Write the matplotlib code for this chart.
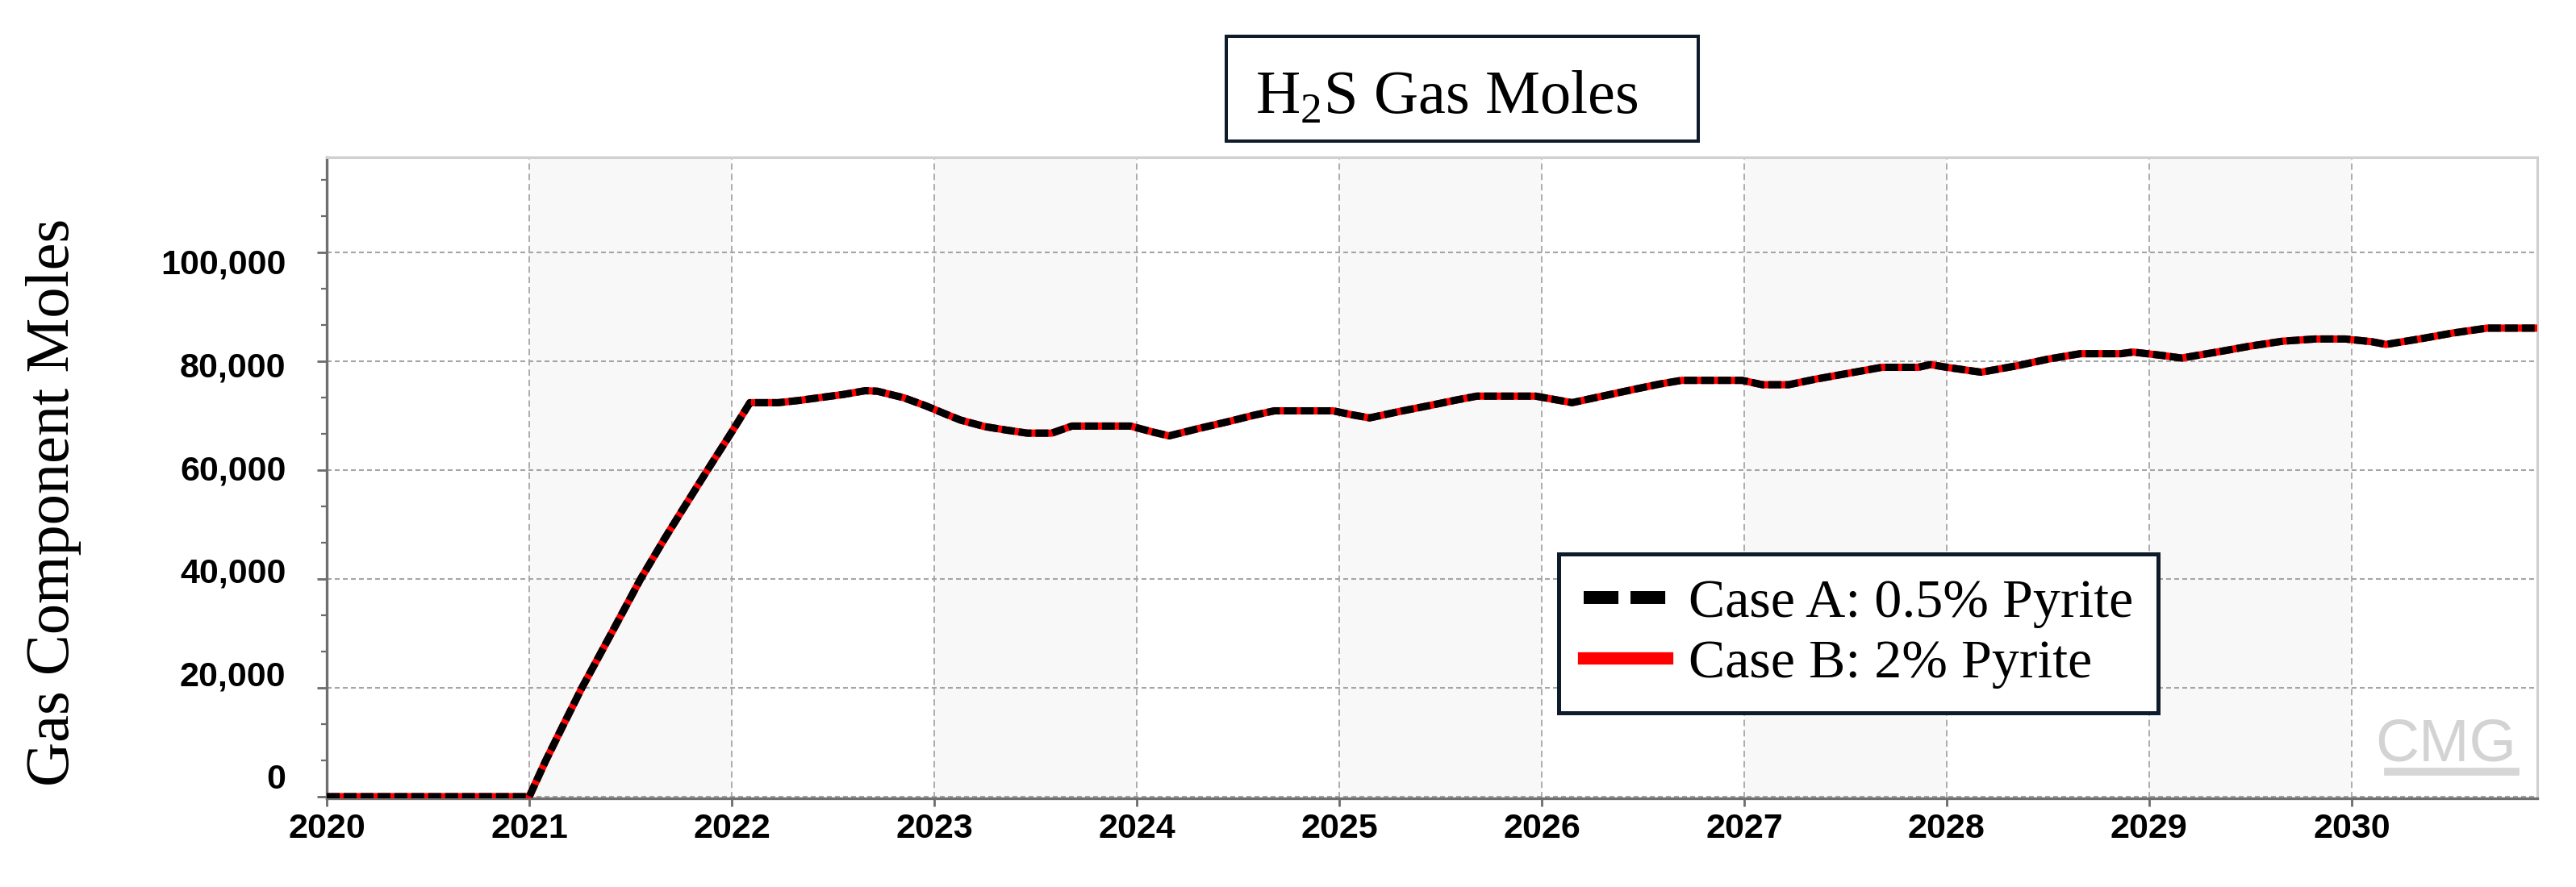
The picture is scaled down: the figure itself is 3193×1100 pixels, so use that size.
import matplotlib
matplotlib.use("Agg")
import matplotlib.pyplot as plt
from matplotlib.lines import Line2D
from matplotlib.patches import Rectangle
from matplotlib.ticker import MultipleLocator, FixedLocator, FuncFormatter
from matplotlib.transforms import ScaledTranslation

plt.rcParams['lines.scale_dashes'] = False
plt.rcParams['mathtext.fontset'] = 'custom'
plt.rcParams['mathtext.rm'] = 'Liberation Serif'

# ======================
# DATA
# ======================
years = [2020.0, 2021.0, 2021.08, 2021.17, 2021.26, 2021.33, 2021.42, 2021.55, 2021.67, 2021.75, 2021.88, 2022.0, 2022.09,
         2022.23, 2022.33, 2022.43, 2022.55, 2022.66, 2022.72, 2022.85, 2022.96,
         2023.05, 2023.13, 2023.25, 2023.35, 2023.46, 2023.58, 2023.68, 2023.97,
         2024.08, 2024.16, 2024.3, 2024.45, 2024.58, 2024.68, 2024.97,
         2025.06, 2025.15, 2025.3, 2025.45, 2025.58, 2025.68, 2025.97,
         2026.06, 2026.15, 2026.3, 2026.45, 2026.58, 2026.69, 2026.99,
         2027.09, 2027.22, 2027.35, 2027.5, 2027.68, 2027.86, 2027.92, 2028.0,
         2028.17, 2028.35, 2028.5, 2028.66, 2028.86, 2028.92, 2029.06,
         2029.16, 2029.35, 2029.5, 2029.66, 2029.82, 2029.97, 2030.1,
         2030.17, 2030.35, 2030.5, 2030.67, 2030.917]

case_a_moles = [0, 0, 6500, 13300, 20000, 24800, 31000, 40000, 47500, 52300, 60000, 67000, 72400,
                72400, 72800, 73300, 73900, 74600, 74500, 73300, 71800,
                70400, 69200, 68000, 67400, 66800, 66800, 68100, 68100,
                67000, 66300, 67600, 68900, 70100, 70900, 70900,
                70200, 69600, 70800, 71900, 72900, 73600, 73600,
                73000, 72400, 73600, 74800, 75800, 76500, 76500,
                75700, 75700, 76700, 77700, 78900, 78900, 79400, 78900,
                78000, 79200, 80400, 81400, 81400, 81700, 81100,
                80600, 81800, 82800, 83700, 84100, 84100, 83600,
                83100, 84200, 85200, 86100, 86100]

# the two cases overlap exactly in the source figure
case_b_moles = list(case_a_moles)

year_ticks = list(range(2020, 2031))
mole_ticks = [0, 20000, 40000, 60000, 80000, 100000]
labels = ['Case A: 0.5% Pyrite', 'Case B: 2% Pyrite']

W, H = 3193, 1100

# ======================
# FIGURE
# ======================
fig = plt.figure(figsize=(W / 100, H / 100), dpi=100)
ax = fig.add_axes([405 / W, 1 - 990 / H, (3145 - 405) / W, (990 - 195) / H])

# alternating year bands
for y in year_ticks[1::2]:
    ax.axvspan(y, y + 1, color='#f8f8f8', lw=0, zorder=0)

ax.plot(years, case_b_moles, color='#ff0000', lw=6.5, zorder=3)
ax.plot(years, case_a_moles, color='black', lw=6.5, dashes=(11.5, 3.6), zorder=4)

ax.set_xlim(2020, 2030.917)
ax.set_ylim(-300, 117500)

ax.xaxis.set_major_locator(FixedLocator(year_ticks))
ax.yaxis.set_major_locator(FixedLocator(mole_ticks))
ax.yaxis.set_minor_locator(MultipleLocator(20000 / 3))
ax.yaxis.set_major_formatter(FuncFormatter(lambda v, p: '{:,.0f}'.format(v)))

ax.set_axisbelow(True)
ax.xaxis.grid(True, color='#a0a0a0', lw=1.2, linestyle=(0, (5.7, 3.5)))
ax.yaxis.grid(True, which='major', color='#a5a5a5', lw=1.5, linestyle=(0, (4.3, 2.9)))

ax.tick_params(axis='x', which='major', length=7, width=2, color='#6b6b6b', pad=6)
ax.tick_params(axis='y', which='major', length=8.5, width=2, color='#6b6b6b', pad=28)
ax.tick_params(axis='y', which='minor', length=5, width=1.6, color='#6b6b6b')

for lab in ax.get_xticklabels() + ax.get_yticklabels():
    lab.set_fontfamily('Liberation Sans')
    lab.set_fontweight('bold')
    lab.set_fontsize(31)

# the simulator spaces its y labels a bit tighter than the grid
for v, lab in zip(mole_ticks, ax.get_yticklabels()):
    dy = -25 + 36 * v / 100000
    lab.set_transform(lab.get_transform() + ScaledTranslation(0, -dy / 100, fig.dpi_scale_trans))

for s in ['left', 'bottom']:
    ax.spines[s].set_color('#6f6f6f')
    ax.spines[s].set_linewidth(2.4)
for s in ['top', 'right']:
    ax.spines[s].set_color('#cfcfcf')
    ax.spines[s].set_linewidth(2.2)

# y label
fig.text(67 / W, 1 - 623 / H, 'Gas Component Moles', rotation=90, ha='center', va='center',
         family='Liberation Serif', fontsize=55)

# boxed title
fig.add_artist(Rectangle((1520 / W, 1 - 175 / H), 585 / W, 130 / H, transform=fig.transFigure,
                         facecolor='white', edgecolor='#0f1b2b', lw=2.9))
fig.text(1556 / W, 1 - 140 / H, r'H$_\mathregular{2}$S Gas Moles', ha='left', va='baseline',
         family='Liberation Serif', fontsize=55)

# legend
handles = [Line2D([], [], color='black', lw=11.5, dashes=(31, 10.8)),
           Line2D([], [], color='#ff0000', lw=11)]
leg = ax.legend(handles, labels, loc='upper left', bbox_to_anchor=(1932 / W, 1 - 687 / H),
                bbox_transform=fig.transFigure, borderaxespad=0, fancybox=False, framealpha=1,
                edgecolor='#0d1b2a', prop={'family': 'Liberation Serif', 'size': 49},
                handlelength=1.52, handletextpad=0.4, labelspacing=0.19, borderpad=0.45)
leg.get_frame().set_linewidth(3.6)
leg.set_zorder(10)

# CMG watermark
fig.text(3032 / W, 1 - 943 / H, 'CMG', ha='center', va='baseline', family='Liberation Sans',
         fontsize=54, color='#d3d3d3')
fig.add_artist(Line2D([2960 / W, 3118 / W], [1 - 957 / H, 1 - 957 / H], transform=fig.transFigure,
                      color='#d6d6d6', lw=7))

fig.savefig('out.png', dpi=100)
